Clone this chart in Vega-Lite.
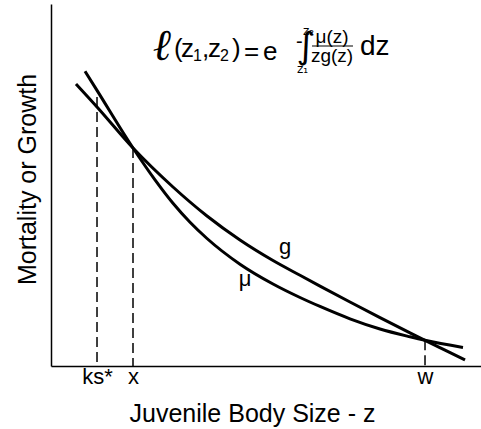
{
  "$schema": "https://vega.github.io/schema/vega-lite/v6.json",
  "width": 430,
  "height": 362,
  "autosize": "none",
  "padding": {"left": 51, "top": 4, "right": 0, "bottom": 63},
  "background": "white",
  "config": {"view": {"stroke": null}, "font": "Liberation Sans"},
  "layer": [
    {
      "data": {"values": [
        {"curve": "g", "z": 5.81, "v": 77.90},
        {"curve": "g", "z": 10.70, "v": 71.55},
        {"curve": "g", "z": 19.07, "v": 60.22},
        {"curve": "g", "z": 28.37, "v": 49.45},
        {"curve": "g", "z": 36.28, "v": 41.44},
        {"curve": "g", "z": 43.95, "v": 34.81},
        {"curve": "g", "z": 51.63, "v": 29.14},
        {"curve": "g", "z": 57.91, "v": 25.06},
        {"curve": "g", "z": 62.56, "v": 22.07},
        {"curve": "g", "z": 69.53, "v": 17.68},
        {"curve": "g", "z": 76.51, "v": 13.37},
        {"curve": "g", "z": 83.49, "v": 9.14},
        {"curve": "g", "z": 86.98, "v": 7.07},
        {"curve": "g", "z": 91.63, "v": 4.36},
        {"curve": "g", "z": 96.28, "v": 1.66},
        {"curve": "mu", "z": 7.91, "v": 81.44},
        {"curve": "mu", "z": 10.70, "v": 76.13},
        {"curve": "mu", "z": 19.07, "v": 60.22},
        {"curve": "mu", "z": 24.19, "v": 51.41},
        {"curve": "mu", "z": 28.37, "v": 44.94},
        {"curve": "mu", "z": 32.33, "v": 39.70},
        {"curve": "mu", "z": 36.28, "v": 35.22},
        {"curve": "mu", "z": 43.95, "v": 28.12},
        {"curve": "mu", "z": 51.63, "v": 22.65},
        {"curve": "mu", "z": 57.91, "v": 18.92},
        {"curve": "mu", "z": 62.56, "v": 16.44},
        {"curve": "mu", "z": 69.53, "v": 13.04},
        {"curve": "mu", "z": 76.51, "v": 10.22},
        {"curve": "mu", "z": 83.49, "v": 8.07},
        {"curve": "mu", "z": 86.98, "v": 7.10},
        {"curve": "mu", "z": 95.81, "v": 5.11}
      ]},
      "mark": {"type": "line", "color": "black", "strokeWidth": 3, "interpolate": "monotone"},
      "encoding": {
        "x": {
          "field": "z", "type": "quantitative",
          "scale": {"domain": [0, 100], "nice": false, "zero": false},
          "axis": {
            "values": [10.70, 19.07, 86.98],
            "labelExpr": "datum.value < 15 ? 'ks*' : (datum.value < 50 ? 'x' : 'w')",
            "grid": false, "ticks": false, "tickSize": 0,
            "domainColor": "black", "domainWidth": 1.5,
            "labelColor": "black", "labelFontSize": 22, "labelFont": "Liberation Sans",
            "labelBaseline": "alphabetic", "labelPadding": 17, "labelFlush": false,
            "title": "Juvenile Body Size - z",
            "titleFont": "Liberation Sans", "titleFontSize": 25, "titleFontWeight": "normal",
            "titleColor": "black", "titleBaseline": "alphabetic",
            "titleX": 201, "titleY": 55
          }
        },
        "y": {
          "field": "v", "type": "quantitative",
          "scale": {"domain": [0, 100], "nice": false, "zero": false},
          "axis": {
            "labels": false, "grid": false, "ticks": false, "tickSize": 0,
            "domainColor": "black", "domainWidth": 1.5,
            "title": "Mortality or Growth",
            "titleFont": "Liberation Sans", "titleFontSize": 25, "titleFontWeight": "normal",
            "titleColor": "black", "titlePadding": 11, "titleY": 175
          }
        },
        "detail": {"field": "curve"}
      }
    },
    {
      "data": {"values": [
        {"name": "ks*", "z": 10.70, "top": 74.3},
        {"name": "x", "z": 19.07, "top": 60.2},
        {"name": "w", "z": 86.98, "top": 7.1}
      ]},
      "mark": {"type": "rule", "color": "black", "strokeWidth": 1.5, "strokeDash": [10, 5]},
      "encoding": {
        "x": {"field": "z", "type": "quantitative"},
        "y": {"field": "top", "type": "quantitative"},
        "y2": {"datum": 0}
      }
    },
    {
      "mark": {"type": "rule", "color": "black", "strokeWidth": 1.5},
      "encoding": {
        "x": {"datum": 0},
        "x2": {"datum": 100},
        "y": {"datum": 100}
      }
    },
    {
      "data": {"values": [
        {"t": "g", "z": 54.42, "v": 30.94},
        {"t": "μ", "z": 45.12, "v": 22.10}
      ]},
      "mark": {"type": "text", "fontSize": 22, "color": "black", "align": "center", "baseline": "alphabetic", "font": "Liberation Sans"},
      "encoding": {
        "x": {"field": "z", "type": "quantitative"},
        "y": {"field": "v", "type": "quantitative"},
        "text": {"field": "t"}
      }
    },
    {
      "data": {"values": [{"t": "ℓ", "z": 26.05, "v": 84.53}]},
      "mark": {"type": "text", "fontSize": 44, "fontStyle": "italic", "fontWeight": "bold", "color": "black", "align": "center", "baseline": "alphabetic", "font": "DejaVu Serif"},
      "encoding": {
        "x": {"field": "z", "type": "quantitative"},
        "y": {"field": "v", "type": "quantitative"},
        "text": {"field": "t"}
      }
    },
    {
      "data": {"values": [
        {"t": "(", "z": 28.60, "v": 85.36},
        {"t": "z", "z": 30.23, "v": 85.36},
        {"t": ",", "z": 35.12, "v": 85.36},
        {"t": "z", "z": 36.51, "v": 85.36},
        {"t": ")", "z": 42.09, "v": 85.36},
        {"t": "=", "z": 44.88, "v": 84.53},
        {"t": "e", "z": 49.30, "v": 84.53}
      ]},
      "mark": {"type": "text", "fontSize": 26, "color": "black", "align": "left", "baseline": "alphabetic", "font": "Liberation Sans"},
      "encoding": {
        "x": {"field": "z", "type": "quantitative"},
        "y": {"field": "v", "type": "quantitative"},
        "text": {"field": "t"}
      }
    },
    {
      "data": {"values": [
        {"t": "1", "z": 33.02, "v": 84.25},
        {"t": "2", "z": 39.30, "v": 84.25}
      ]},
      "mark": {"type": "text", "fontSize": 16, "color": "black", "align": "left", "baseline": "alphabetic", "font": "Liberation Sans"},
      "encoding": {
        "x": {"field": "z", "type": "quantitative"},
        "y": {"field": "v", "type": "quantitative"},
        "text": {"field": "t"}
      }
    },
    {
      "data": {"values": [{"t": "-", "z": 56.98, "v": 87.80}]},
      "mark": {"type": "text", "fontSize": 20, "color": "black", "align": "left", "baseline": "alphabetic", "font": "Liberation Sans"},
      "encoding": {
        "x": {"field": "z", "type": "quantitative"},
        "y": {"field": "v", "type": "quantitative"},
        "text": {"field": "t"}
      }
    },
    {
      "data": {"values": [{"t": "∫", "z": 59.30, "v": 85.08}]},
      "mark": {"type": "text", "fontSize": 36, "color": "black", "align": "center", "baseline": "alphabetic", "font": "DejaVu Sans"},
      "encoding": {
        "x": {"field": "z", "type": "quantitative"},
        "y": {"field": "v", "type": "quantitative"},
        "text": {"field": "t"}
      }
    },
    {
      "data": {"values": [
        {"t": "z₂", "z": 58.60, "v": 91.44},
        {"t": "z₁", "z": 57.21, "v": 80.94}
      ]},
      "mark": {"type": "text", "fontSize": 12, "color": "black", "align": "left", "baseline": "alphabetic", "font": "DejaVu Sans"},
      "encoding": {
        "x": {"field": "z", "type": "quantitative"},
        "y": {"field": "v", "type": "quantitative"},
        "text": {"field": "t"}
      }
    },
    {
      "data": {"values": [
        {"t": "μ(z)", "z": 65.35, "v": 89.23},
        {"t": "zg(z)", "z": 65.35, "v": 83.98}
      ]},
      "mark": {"type": "text", "fontSize": 19, "color": "black", "align": "center", "baseline": "alphabetic", "font": "Liberation Sans"},
      "encoding": {
        "x": {"field": "z", "type": "quantitative"},
        "y": {"field": "v", "type": "quantitative"},
        "text": {"field": "t"}
      }
    },
    {
      "data": {"values": [{"z": 60.70, "z2": 70.23, "v": 88.40}]},
      "mark": {"type": "rule", "color": "black", "strokeWidth": 1.2},
      "encoding": {
        "x": {"field": "z", "type": "quantitative"},
        "x2": {"field": "z2"},
        "y": {"field": "v", "type": "quantitative"}
      }
    },
    {
      "data": {"values": [{"t": "dz", "z": 71.86, "v": 85.91}]},
      "mark": {"type": "text", "fontSize": 28, "color": "black", "align": "left", "baseline": "alphabetic", "font": "Liberation Sans"},
      "encoding": {
        "x": {"field": "z", "type": "quantitative"},
        "y": {"field": "v", "type": "quantitative"},
        "text": {"field": "t"}
      }
    }
  ]
}
